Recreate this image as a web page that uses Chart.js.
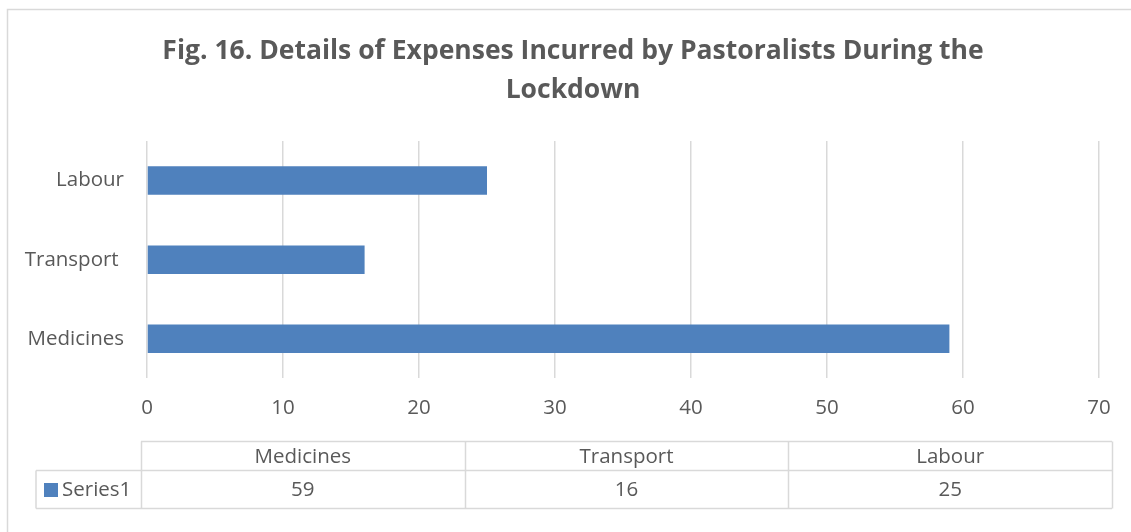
<!DOCTYPE html>
<html>
<head>
<meta charset="utf-8">
<script src="https://cdn.jsdelivr.net/npm/chart.js@4/dist/chart.umd.min.js"></script>
<style>
  html, body { margin: 0; padding: 0; background: #fff; }
  #wrap { width: 1131px; height: 532px; position: relative; }
</style>
</head>
<body>
<div id="wrap"><canvas id="myChart" width="1131" height="532"></canvas></div>
<script>
var titleLines = ['Fig. 16. Details of Expenses Incurred by Pastoralists During the', 'Lockdown'];
var categories = ['Medicines', 'Transport ', 'Labour'];
var seriesName = 'Series1';
var series1 = [59, 16, 25];
var xTicks = [0, 10, 20, 30, 40, 50, 60, 70];

var GREY_TEXT = '#595959';
var GRID = '#d9d9d9';
var BAR = '#4f81bd';
var FONT = '"Open Sans", sans-serif';
var TXT = 20.5;

// title, outer frame and the data table under the axis
var extras = {
    id: 'extras',
    afterDraw: function(chart){
        var ctx = chart.ctx;
        ctx.save();

        // frame
        ctx.strokeStyle = GRID;
        ctx.lineWidth = 1.5;
        ctx.beginPath();
        ctx.moveTo(7.5, 532);
        ctx.lineTo(7.5, 9.5);
        ctx.lineTo(1131, 9.5);
        ctx.stroke();

        // title
        ctx.fillStyle = GREY_TEXT;
        ctx.font = 'bold 26.5px ' + FONT;
        ctx.textAlign = 'center';
        ctx.textBaseline = 'middle';
        ctx.fillText(titleLines[0], 573, 51);
        ctx.fillText(titleLines[1], 573, 90);

        // data table
        var left = 141, right = 1112, legLeft = 36;
        var top = 441.5, mid = 470.5, bottom = 508.5;
        var colW = (right - left) / categories.length;
        ctx.lineWidth = 1.5;
        ctx.beginPath();
        ctx.moveTo(left, top); ctx.lineTo(right, top);
        ctx.moveTo(legLeft, mid); ctx.lineTo(right, mid);
        ctx.moveTo(legLeft, bottom); ctx.lineTo(right, bottom);
        ctx.moveTo(legLeft, mid); ctx.lineTo(legLeft, bottom);
        for (let i = 0; i <= categories.length; i++){
            var x = Math.round(left + i * colW) + 0.5;
            ctx.moveTo(x, top); ctx.lineTo(x, bottom);
        }
        ctx.stroke();

        ctx.font = TXT + 'px ' + FONT;
        ctx.fillStyle = GREY_TEXT;
        for (let i = 0; i < categories.length; i++){
            var cx = left + (i + 0.5) * colW;
            ctx.fillText(categories[i].trim(), cx, (top + mid) / 2 + 1);
            ctx.fillText(String(series1[i]), cx, (mid + bottom) / 2 + 1);
        }
        // legend key
        ctx.fillStyle = BAR;
        ctx.fillRect(44, 483, 14, 14);
        ctx.fillStyle = GREY_TEXT;
        ctx.textAlign = 'left';
        ctx.fillText(seriesName, 62, (mid + bottom) / 2 + 1);

        ctx.restore();
    }
};

Chart.defaults.font.family = FONT;
Chart.defaults.font.size = TXT;
Chart.defaults.color = GREY_TEXT;

const data = {
    labels: categories,
    datasets: [{
        label: seriesName,
        data: series1,
        backgroundColor: BAR,
        borderWidth: 0,
        categoryPercentage: 1.0,
        barPercentage: 0.36
    }]
};

const config = {
    type: 'bar',
    data: data,
    options: {
        indexAxis: 'y',
        responsive: false,
        animation: false,
        layout: { padding: { top: 141, left: 20, right: 32, bottom: 95 } },
        plugins: {
            legend: { display: false },
            title: { display: false },
            tooltip: { enabled: false }
        },
        scales: {
            x: {
                min: 0,
                max: 70,
                afterBuildTicks: function(axis){
                    axis.ticks = xTicks.map(function(v){ return { value: v }; });
                },
                grid: { color: GRID, lineWidth: 1.5, drawTicks: false },
                border: { display: false },
                ticks: { padding: 17 }
            },
            y: {
                reverse: true,
                grid: { display: false, drawTicks: false },
                border: { display: false },
                ticks: { padding: 23 },
                afterFit: function(axis){ axis.width = 127; }
            }
        }
    },
    plugins: [extras]
};

const myChart = new Chart(document.getElementById('myChart'), config);
</script>
</body>
</html>
